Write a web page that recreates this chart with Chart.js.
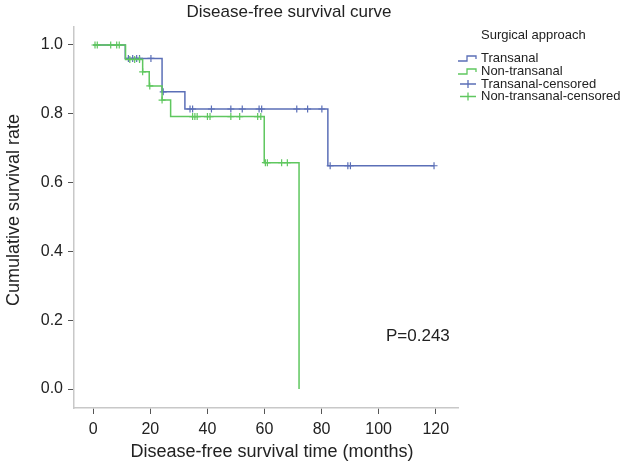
<!DOCTYPE html>
<html>
<head>
<meta charset="utf-8">
<script src="https://cdn.jsdelivr.net/npm/chart.js@4"></script>
<style>
  body { margin: 0; background: #fff; }
</style>
</head>
<body>
<canvas id="km" width="629" height="464"></canvas>
<script>
// Kaplan-Meier steps (time in months, survival)
const transanalTimes = [0, 11.2, 24.1, 32.1, 82.2, 119.4];
const transanalSurv = [1.0, 0.961, 0.864, 0.814, 0.649, 0.649];
const nonTransanalTimes = [0, 11.3, 17.3, 19.6, 24.1, 27.1, 59.9, 72.1];
const nonTransanalSurv = [1.0, 0.958, 0.922, 0.881, 0.84, 0.792, 0.658, 0];

// censored cases
const transanalCensTimes = [12.3, 13.8, 15.2, 16.2, 20.2, 24.5, 33.9, 34.8, 41.4, 48.2, 52.2, 58.1, 59.0, 71.3, 75.1, 80.1, 83.0, 89.2, 90.1, 119.4];
const transanalCensSurv = [0.961, 0.961, 0.961, 0.961, 0.961, 0.864, 0.814, 0.814, 0.814, 0.814, 0.814, 0.814, 0.814, 0.814, 0.814, 0.814, 0.649, 0.649, 0.649, 0.649];
const nonTransanalCensTimes = [0.6, 1.4, 6.1, 8.2, 9.1, 12.8, 14.5, 16.2, 17.3, 19.8, 24.1, 34.8, 35.6, 36.4, 40.0, 40.9, 48.2, 51.3, 57.6, 58.7, 60.3, 61.0, 66.0, 68.0];
const nonTransanalCensSurv = [1, 1, 1, 1, 1, 0.958, 0.958, 0.958, 0.922, 0.881, 0.84, 0.792, 0.792, 0.792, 0.792, 0.792, 0.792, 0.792, 0.792, 0.792, 0.658, 0.658, 0.658, 0.658];

const xTicks = [0, 20, 40, 60, 80, 100, 120];
const yTicks = [0, 0.2, 0.4, 0.6, 0.8, 1.0];
const groups = ["Transanal", "Non-transanal", "Transanal-censored", "Non-transanal-censored"];

const BLUE = '#5b6fb7';
const GREEN = '#5fc75f';
const FONT = '"Liberation Sans", Arial, Helvetica, sans-serif';

const pts = (xs, ys) => xs.map((x, i) => ({ x: x, y: ys[i] }));

// titles, legend and p-value
const textPlugin = {
  id: 'texts',
  afterDraw(chart) {
    const c = chart.ctx;
    c.save();
    c.fillStyle = '#222';
    c.textBaseline = 'middle';

    c.font = '17px ' + FONT;
    c.textAlign = 'center';
    c.fillText('Disease-free survival curve', 289, 12);

    c.font = '18px ' + FONT;
    c.fillText('Disease-free survival time (months)', 272, 452);

    c.save();
    c.translate(14, 210);
    c.rotate(-Math.PI / 2);
    c.fillText('Cumulative survival rate', 0, 0);
    c.restore();

    c.font = '17px ' + FONT;
    c.textAlign = 'left';
    c.fillText('P=0.243', 386, 336);

    // legend
    c.font = '13px ' + FONT;
    c.fillText('Surgical approach', 481, 35);
    const rows = [58, 71, 84, 96.5];
    const cols = [BLUE, GREEN, BLUE, GREEN];
    groups.forEach((g, i) => {
      const y = rows[i];
      c.fillStyle = '#222';
      c.fillText(g, 481, y);
      c.strokeStyle = cols[i];
      c.lineWidth = 1.3;
      c.beginPath();
      if (i < 2) {
        c.moveTo(458, y + 3);
        c.lineTo(467, y + 3);
        c.lineTo(467, y - 2);
        c.lineTo(476, y - 2);
        c.lineTo(476, y + 1);
      } else {
        c.moveTo(460, y);
        c.lineTo(476, y);
        c.moveTo(468, y - 4);
        c.lineTo(468, y + 4);
      }
      c.stroke();
    });
    c.restore();
  }
};

const tickFont = { size: 16, family: FONT };

new Chart(document.getElementById('km'), {
  type: 'line',
  data: {
    datasets: [
      {
        label: groups[1],
        data: pts(nonTransanalTimes, nonTransanalSurv),
        borderColor: GREEN, borderWidth: 1.5, stepped: 'before',
        pointRadius: 0, fill: false, order: 1
      },
      {
        label: groups[3],
        data: pts(nonTransanalCensTimes, nonTransanalCensSurv),
        showLine: false, pointStyle: 'cross', pointRadius: 3.5,
        borderColor: GREEN, pointBorderWidth: 1.2, order: 0
      },
      {
        label: groups[0],
        data: pts(transanalTimes, transanalSurv),
        borderColor: BLUE, borderWidth: 1.5, stepped: 'before',
        pointRadius: 0, fill: false, order: 3
      },
      {
        label: groups[2],
        data: pts(transanalCensTimes, transanalCensSurv),
        showLine: false, pointStyle: 'cross', pointRadius: 3.5,
        borderColor: BLUE, pointBorderWidth: 1.2, order: 2
      }
    ]
  },
  options: {
    responsive: false,
    animation: false,
    layout: { padding: { top: 27, right: 171, left: 0, bottom: 0 } },
    plugins: {
      legend: { display: false },
      tooltip: { enabled: false }
    },
    scales: {
      x: {
        type: 'linear',
        min: -6.76,
        max: 127.8,
        afterBuildTicks: s => { s.ticks = xTicks.map(v => ({ value: v })); },
        afterFit: s => { s.height = 56; },
        ticks: { color: '#222', font: tickFont, padding: 6, callback: v => String(v) },
        grid: { drawOnChartArea: false, tickLength: 6, color: '#555' },
        border: { color: '#c8c8c8', width: 1.5 }
      },
      y: {
        type: 'linear',
        min: -0.0552,
        max: 1.0523,
        afterBuildTicks: s => { s.ticks = yTicks.map(v => ({ value: v })); },
        afterFit: s => { s.width = 74; },
        ticks: { color: '#222', font: tickFont, padding: 5, callback: v => v.toFixed(1) },
        grid: { drawOnChartArea: false, tickLength: 6, color: '#555' },
        border: { color: '#c8c8c8', width: 1.5 }
      }
    }
  },
  plugins: [textPlugin]
});
</script>
</body>
</html>
